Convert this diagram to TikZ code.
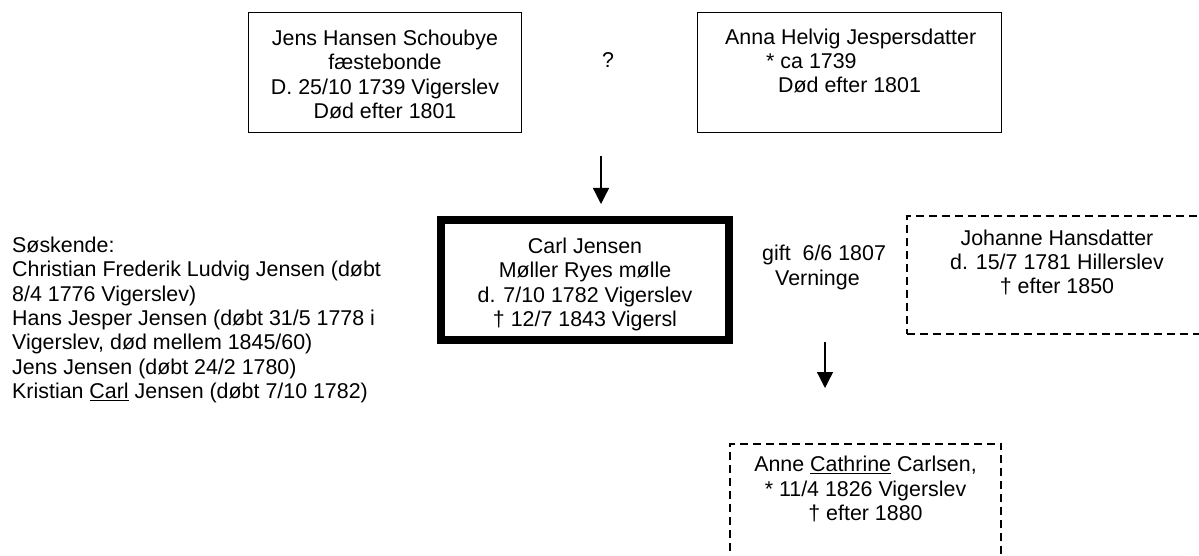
\documentclass[tikz,border=0pt]{standalone}
\usepackage{fontspec}
\setmainfont{Liberation Sans}
\usetikzlibrary{arrows.meta}
\begin{document}
\begin{tikzpicture}[x=1pt,y=-1pt,
    txt/.style={font=\fontsize{21.4}{24.4}\selectfont, inner sep=0pt},
    frame/.style={draw, line width=1.3pt, inner sep=0pt},
    thickframe/.style={draw, line width=8pt, inner sep=0pt},
    dashframe/.style={draw, line width=1.8pt, dash pattern=on 8pt off 5pt, inner sep=0pt},
    arr/.style={-{Triangle[width=16pt,length=16pt]}, line width=1.3pt}]
    \path[use as bounding box] (0,0) rectangle (1199,556);
    \clip (0,0) rectangle (1199,556);

    % Parents
    \node[frame, minimum width=272.7pt, minimum height=119.7pt] (father) at (385,72.5) {};
    \node[txt, align=center] (fathertxt) at (385,74.5)
        {Jens Hansen Schoubye\\fæstebonde\\D. 25/10 1739 Vigerslev\\Død efter 1801};

    \node[frame, minimum width=303.7pt, minimum height=119.7pt] (mother) at (849.5,72.5) {};
    \node[txt, align=left, anchor=west] (mothertxt) at (725,61)
        {Anna Helvig Jespersdatter\\\hspace*{41pt}* ca 1739\\\hspace*{53pt}Død efter 1801};

    \node[txt] (unknown) at (608,60) {?};

    % Carl and wife
    \node[txt, align=center] (carltxt) at (585,284.5)
        {Carl Jensen\\Møller Ryes mølle\\d. 7/10 1782 Vigerslev\\† 12/7 1843 Vigersl};
    \node[thickframe, minimum width=288pt, minimum height=120pt] (carl) at (585,280) {};

    \node[txt, align=left, anchor=west] (gift) at (762,267.5)
        {gift\ \ 6/6 1807\\\hspace*{13pt}Verninge};

    \node[dashframe, minimum width=300.2pt, minimum height=118.2pt] (wife) at (1057,275) {};
    \node[txt, align=center] (wifetxt) at (1057,262.5)
        {Johanne Hansdatter\\d. 15/7 1781 Hillerslev\\† efter 1850};

    % Siblings
    \node[txt, align=left, anchor=west] (siblings) at (12,320)
        {Søskende:\\Christian Frederik Ludvig Jensen (døbt\\8/4 1776 Vigerslev)\\Hans Jesper Jensen (døbt 31/5 1778 i\\Vigerslev, død mellem 1845/60)\\Jens Jensen (døbt 24/2 1780)\\Kristian \underline{Carl} Jensen (døbt 7/10 1782)};

    % Child
    \node[dashframe, minimum width=271.2pt, minimum height=125.2pt] (child) at (865.5,506.5) {};
    \node[txt, align=center] (childtxt) at (865.5,489)
        {Anne \underline{Cathrine} Carlsen,\\* 11/4 1826 Vigerslev\\† efter 1880};

    % Arrows
    \coordinate (a1top) at (601,156);
    \coordinate (a1end) at (601,204);
    \coordinate (a2top) at (825,342);
    \coordinate (a2end) at (825,388);
    \draw[arr] (a1top) -- (a1end);
    \draw[arr] (a2top) -- (a2end);

\end{tikzpicture}
\end{document}
